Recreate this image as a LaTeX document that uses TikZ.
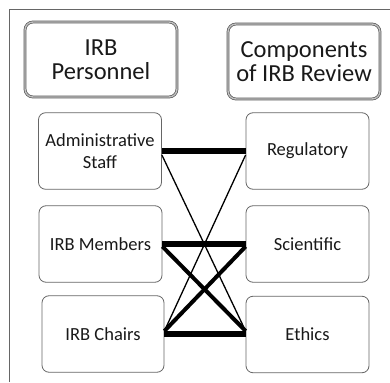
\documentclass[tikz,border=0pt]{standalone}
\usepackage{fontspec}
\setmainfont{Carlito}
\usetikzlibrary{calc}
\begin{document}
\begin{tikzpicture}[x=1pt,y=-1pt,
  header/.style={draw=black!65, line width=0.7pt, double=black!25, double distance=1.4pt,
    rounded corners=8pt, minimum width=152pt, minimum height=75pt, align=center,
    font=\fontsize{24.5}{24}\selectfont, text=black!90, inner sep=0pt},
  itembox/.style={draw=black!60, line width=0.8pt, rounded corners=7pt,
    minimum width=123pt, minimum height=76.5pt, align=center,
    font=\fontsize{18.5}{22.5}\selectfont, text=black!90, inner sep=0pt},
  thin/.style={line width=1.3pt, black},
  thickline/.style={line width=5.8pt, black},
  diag/.style={line width=4pt, black}]
\useasboundingbox (0,0) rectangle (390,382);
\fill[white] (0,0) rectangle (390,382);
\draw[black!60, line width=0.8pt] (9,382) -- (9,9) -- (390,9);

\node[header] (h1) at (101,59.5) {IRB\\Personnel};
\node[header] (h2) at (304,61.5) {Components\\of IRB Review};

\node[itembox] (adm) at (100,151) {Administrative\\Staff};
\node[itembox] (reg) at (307.5,151) {Regulatory};
\node[itembox] (mem) at (100.5,244) {IRB Members};
\node[itembox] (sci) at (307.5,244) {Scientific};
\node[itembox, minimum width=122pt] (cha) at (103,334) {IRB Chairs};
\node[itembox] (eth) at (307.5,334.5) {Ethics};

\coordinate (admS) at ($(adm.east)+(0,4)$);
\coordinate (regS) at ($(reg.west)+(0,4)$);
\coordinate (memS) at ($(mem.east)+(0,2.5)$);
\coordinate (sciS) at ($(sci.west)+(0,2.5)$);
\coordinate (chaN) at ($(cha.east)+(0,-3)$);
\coordinate (ethN) at ($(eth.west)+(0,-3.5)$);

\draw[thickline] (adm.east) -- (reg.west);
\draw[thickline] (mem.east) -- (sci.west);
\draw[thickline] (cha.east) -- (eth.west |- cha.east);
\draw[thin] (admS) -- (ethN);
\draw[thin] (regS) -- (chaN);
\draw[diag] (memS) -- (ethN);
\draw[diag] (sciS) -- (chaN);
\end{tikzpicture}
\end{document}
